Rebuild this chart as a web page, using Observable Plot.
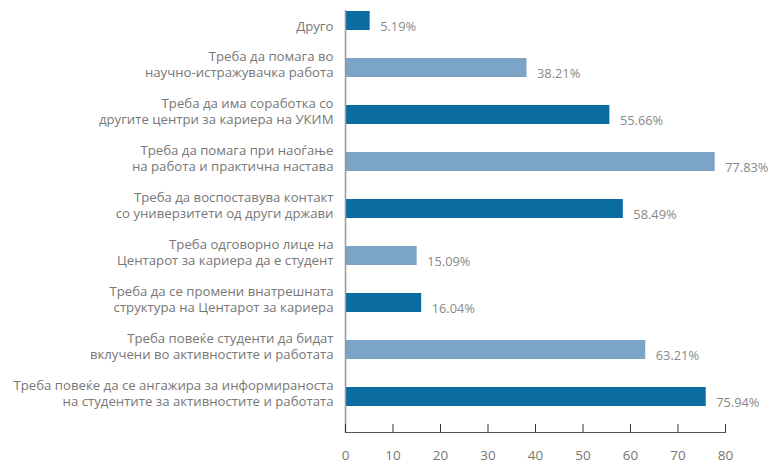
<!DOCTYPE html>
<html>
<head>
<meta charset="utf-8">
<script src="https://cdn.jsdelivr.net/npm/d3@7"></script>
<script src="https://cdn.jsdelivr.net/npm/@observablehq/plot@0.6"></script>
<style>
  html, body { margin: 0; padding: 0; background: #fff; }
  #chart svg { display: block; }
</style>
</head>
<body>
<div id="chart"></div>
<script>
const categories = [
  "Друго",
  "Треба да помага во\nнаучно-истражувачка работа",
  "Треба да има соработка со\nдругите центри за кариера на УКИМ",
  "Треба да помага при наоѓање\nна работа и практична настава",
  "Треба да воспоставува контакт\nсо универзитети од други држави",
  "Треба одговорно лице на\nЦентарот за кариера да е студент",
  "Треба да се промени внатрешната\nструктура на Центарот за кариера",
  "Треба повеќе студенти да бидат\nвклучени во активностите и работата",
  "Треба повеќе да се ангажира за информираноста\nна студентите за активностите и работата"
];
const values = [5.19, 38.21, 55.66, 77.83, 58.49, 15.09, 16.04, 63.21, 75.94];
const xTicks = [0, 10, 20, 30, 40, 50, 60, 70, 80];

const DARK = "#0a6ca0";
const LIGHT = "#7ca4c7";

const data = categories.map((c, i) => ({cat: c, value: values[i], idx: i}));
const single = data.filter(d => !d.cat.includes("\n"));
const multi = data.filter(d => d.cat.includes("\n"));

const font = "'Open Sans', Roboto, sans-serif";

const chart = Plot.plot({
  width: 769,
  height: 463,
  marginTop: 10,
  marginBottom: 31,
  marginLeft: 345,
  marginRight: 44,
  style: {fontFamily: font, background: "#fff"},
  x: {domain: [0, 80], axis: null},
  y: {domain: categories, paddingInner: 0.596, paddingOuter: 0.287, align: 0.04, axis: null},
  marks: [
    Plot.barX(data, {y: "cat", x: "value", fill: d => d.idx % 2 === 0 ? DARK : LIGHT}),
    Plot.ruleX([0], {stroke: "#999", strokeWidth: 1.5}),
    Plot.frame({anchor: "bottom", stroke: "#555", strokeWidth: 1.2}),
    Plot.ruleX(xTicks, {x: d => d, stroke: "#333", insetTop: 414}),
    Plot.axisX(xTicks, {tickSize: 0, tickPadding: 18, fontSize: 13.5, fill: "#777", stroke: null, label: null}),
    Plot.text(single, {y: "cat", text: "cat", frameAnchor: "left", textAnchor: "end", dx: -12, dy: 4.5, fontSize: 13.2, fill: "#777", lineHeight: 1.24}),
    Plot.text(multi, {y: "cat", text: "cat", frameAnchor: "left", textAnchor: "end", dx: -12, dy: -4.4, fontSize: 13.2, fill: "#777", lineHeight: 1.24}),
    Plot.text(data, {y: "cat", x: "value", text: d => d.value.toFixed(2) + "%", textAnchor: "start", dx: 10, dy: 5.5, fontSize: 12.8, fill: "#888"})
  ]
});
document.getElementById("chart").appendChild(chart);
</script>
</body>
</html>
